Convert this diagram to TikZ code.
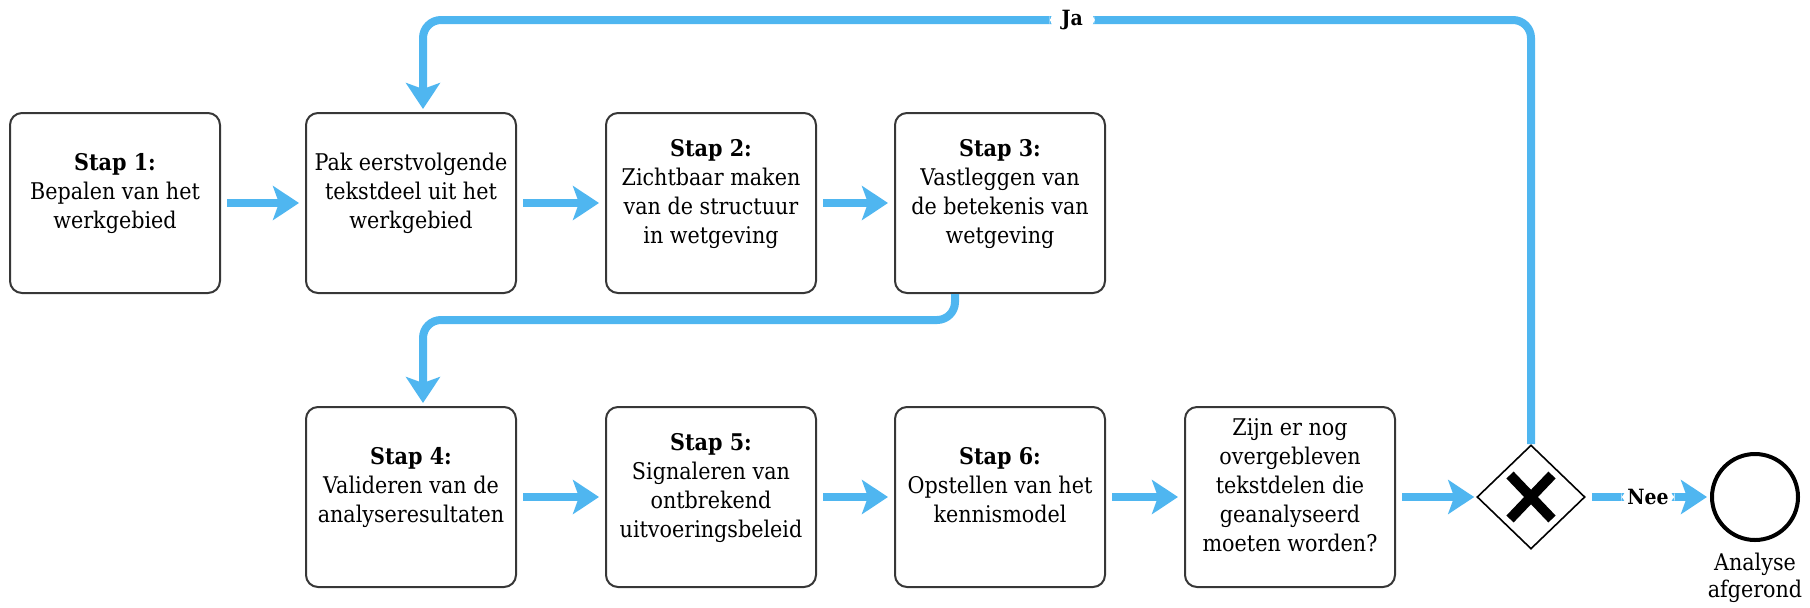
\documentclass[tikz,border=0pt]{standalone}
\usepackage{fontspec}
\setmainfont{DejaVu Serif}[FakeStretch=0.9]
\usetikzlibrary{arrows.meta, shapes.geometric}
\definecolor{flowblue}{RGB}{79,182,240}
\definecolor{boxline}{RGB}{55,55,55}
\tikzset{
  stapbox/.style={draw=boxline, line width=1pt, rounded corners=6pt,
    minimum width=105pt, minimum height=90pt, text depth=12pt,
    align=center, inner sep=2pt, font=\fontsize{11.5}{14.5}\selectfont},
  flow/.style={draw=flowblue, line width=4pt, rounded corners=9pt,
    -{Stealth[length=13pt, width=17pt, inset=3pt]}},
  flowlabel/.style={fill=white, inner xsep=3pt, inner ysep=2pt,
    font=\fontsize{10.5}{12}\selectfont\bfseries}
}

\begin{document}
\begin{tikzpicture}[x=0.5pt, y=-0.5pt]
  \useasboundingbox (0,0) rectangle (1810,607);
  % bovenste rij
  \node[stapbox] (s1) at (115,203)
    {\textbf{Stap 1:}\\Bepalen van het\\werkgebied};
  \node[stapbox] (pak) at (411,203)
    {Pak eerstvolgende\\tekstdeel uit het\\werkgebied};
  \node[stapbox] (s2) at (711,203)
    {\textbf{Stap 2:}\\Zichtbaar maken\\van de structuur\\in wetgeving};
  \node[stapbox] (s3) at (1000,203)
    {\textbf{Stap 3:}\\Vastleggen van\\de betekenis van\\wetgeving};
  % onderste rij
  \node[stapbox] (s4) at (411,497)
    {\textbf{Stap 4:}\\Valideren van de\\analyseresultaten};
  \node[stapbox] (s5) at (711,497)
    {\textbf{Stap 5:}\\Signaleren van\\ontbrekend\\uitvoeringsbeleid};
  \node[stapbox] (s6) at (1000,497)
    {\textbf{Stap 6:}\\Opstellen van het\\kennismodel};
  \node[stapbox] (vraag) at (1290,497)
    {Zijn er nog\\overgebleven\\tekstdelen die\\geanalyseerd\\moeten worden?};
  % gateway en einde
  \node[diamond, draw, line width=0.8pt, minimum width=54pt, minimum height=52pt,
    inner sep=0pt] (gate) at (1531,497) {};
  \draw[line width=5pt] ([shift={(-10.5pt,-11pt)}]gate.center) -- ([shift={(10.5pt,11pt)}]gate.center);
  \draw[line width=5pt] ([shift={(-10.5pt,11pt)}]gate.center) -- ([shift={(10.5pt,-11pt)}]gate.center);
  \node[circle, draw, line width=2pt, minimum size=43pt, inner sep=0pt] (einde) at (1755,497) {};
  \node[align=center, inner sep=0pt, font=\fontsize{11.5}{13.5}\selectfont,
    anchor=north] (eindlabel) at (1755,553) {Analyse\\afgerond};

  \draw[flow, shorten <=3pt, shorten >=3pt] (s1) -- (pak);
  \draw[flow, shorten <=3pt, shorten >=3pt] (pak) -- (s2);
  \draw[flow, shorten <=3pt, shorten >=3pt] (s2) -- (s3);
  \draw[flow, shorten <=3pt, shorten >=3pt] (s4) -- (s5);
  \draw[flow, shorten <=3pt, shorten >=3pt] (s5) -- (s6);
  \draw[flow, shorten <=3pt, shorten >=3pt] (s6) -- (vraag);
  \draw[flow, shorten <=3pt, shorten >=1pt] (vraag) -- (gate);
  \draw[flow, shorten <=3pt, shorten >=1.5pt] (gate) -- node[flowlabel] {Nee} (einde);

  % terug naar volgend tekstdeel
  \coordinate (bocht) at (1531,20);
  \coordinate (inval) at (423,0);
  \draw[flow, shorten >=1.5pt] (gate.north) -- (bocht)
    -- node[flowlabel, inner xsep=6pt, pos=0.414] {Ja} (bocht -| inval) -- (inval |- pak.north);
  \coordinate (afslag) at (955,320);
  \draw[flow, shorten >=1.5pt] (afslag |- s3.south) -- (afslag)
    -- (afslag -| inval) -- (inval |- s4.north);
\end{tikzpicture}
\end{document}
